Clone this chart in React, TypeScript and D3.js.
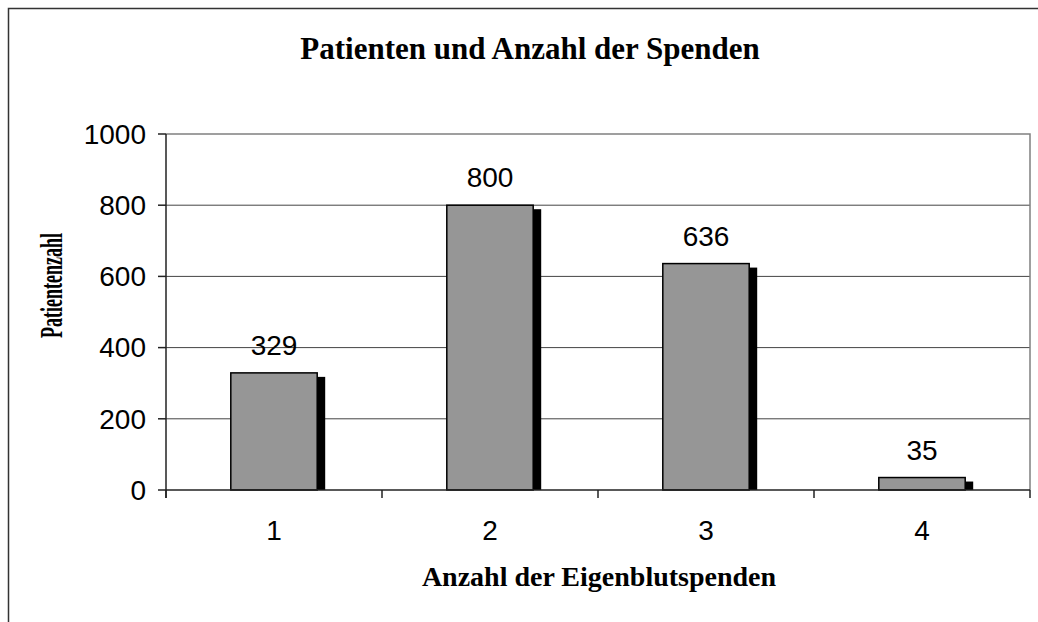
import * as d3 from 'd3'

const categories = ['1', '2', '3', '4']
const patients = [329, 800, 636, 35]
const yTicks = [0, 200, 400, 600, 800, 1000]

const W = 1038
const H = 622
const plot = { left: 166, right: 1030, top: 134, bottom: 490 }

export default function App() {
  const x = d3.scaleBand<string>()
    .domain(categories)
    .range([plot.left, plot.right])
    .paddingInner(0.6)
    .paddingOuter(0.3)

  const y = d3.scaleLinear()
    .domain([0, 1000])
    .range([plot.bottom, plot.top])

  const bw = x.bandwidth()
  const step = x.step()
  const sans = 'Liberation Sans, Arial, sans-serif'
  const serif = 'Liberation Serif, Times New Roman, serif'

  // category boundaries for the x tick marks
  const bounds = d3.range(categories.length + 1).map(i => plot.left + i * step)

  return (
    <svg
      width={W}
      height={H}
      style={{ position: 'fixed', left: 0, top: 0, background: '#fff' }}
    >
      {/* outer chart frame, clipped on right and bottom */}
      <rect x={8.5} y={8.5} width={1100} height={700} fill="#fff" stroke="#333" strokeWidth={1.5} />

      <text x={530} y={59} textAnchor="middle" fontFamily={serif} fontWeight="bold" fontSize={31}>
        Patienten und Anzahl der Spenden
      </text>

      {/* gridlines */}
      {yTicks.filter(t => t > 0 && t < 1000).map(t => (
        <line key={t} x1={plot.left} x2={plot.right} y1={y(t)} y2={y(t)} stroke="#444" strokeWidth={1} />
      ))}

      {/* plot border top and right */}
      <path
        d={`M${plot.left},${plot.top}H${plot.right}V${plot.bottom}`}
        fill="none"
        stroke="#808080"
        strokeWidth={1.5}
      />

      {/* bars with shadows */}
      {patients.map((v, i) => {
        const bx = x(categories[i])!
        const by = y(v)
        return (
          <g key={i}>
            <rect x={bx + 8} y={by + 4} width={bw} height={plot.bottom - by - 4} fill="#000" />
            <rect x={bx} y={by} width={bw} height={plot.bottom - by} fill="#969696" stroke="#000" strokeWidth={1.5} />
            <text x={bx + bw / 2} y={by - 18} textAnchor="middle" fontFamily={sans} fontSize={28}>
              {v}
            </text>
          </g>
        )
      })}

      {/* y axis */}
      <line x1={plot.left} x2={plot.left} y1={plot.top} y2={plot.bottom + 8} stroke="#222" strokeWidth={1.5} />
      {yTicks.map(t => (
        <g key={t}>
          <line x1={plot.left - 8} x2={plot.left} y1={y(t)} y2={y(t)} stroke="#222" strokeWidth={1.5} />
          <text x={146} y={y(t)} dy="0.35em" textAnchor="end" fontFamily={sans} fontSize={28}>
            {t}
          </text>
        </g>
      ))}

      {/* x axis */}
      <line x1={plot.left} x2={plot.right} y1={plot.bottom} y2={plot.bottom} stroke="#222" strokeWidth={1.5} />
      {bounds.map((b, i) => (
        <line key={i} x1={b} x2={b} y1={plot.bottom} y2={plot.bottom + 8} stroke="#222" strokeWidth={1.5} />
      ))}
      {categories.map(c => (
        <text key={c} x={x(c)! + bw / 2} y={540} textAnchor="middle" fontFamily={sans} fontSize={28}>
          {c}
        </text>
      ))}

      <text x={599} y={586} textAnchor="middle" fontFamily={serif} fontWeight="bold" fontSize={28}>
        Anzahl der Eigenblutspenden
      </text>

      <text
        transform="translate(62,285.5) rotate(-90)"
        textAnchor="middle"
        fontFamily={serif}
        fontWeight="bold"
        fontSize={31}
        textLength={105}
        lengthAdjust="spacingAndGlyphs"
      >
        Patientenzahl
      </text>
    </svg>
  )
}
